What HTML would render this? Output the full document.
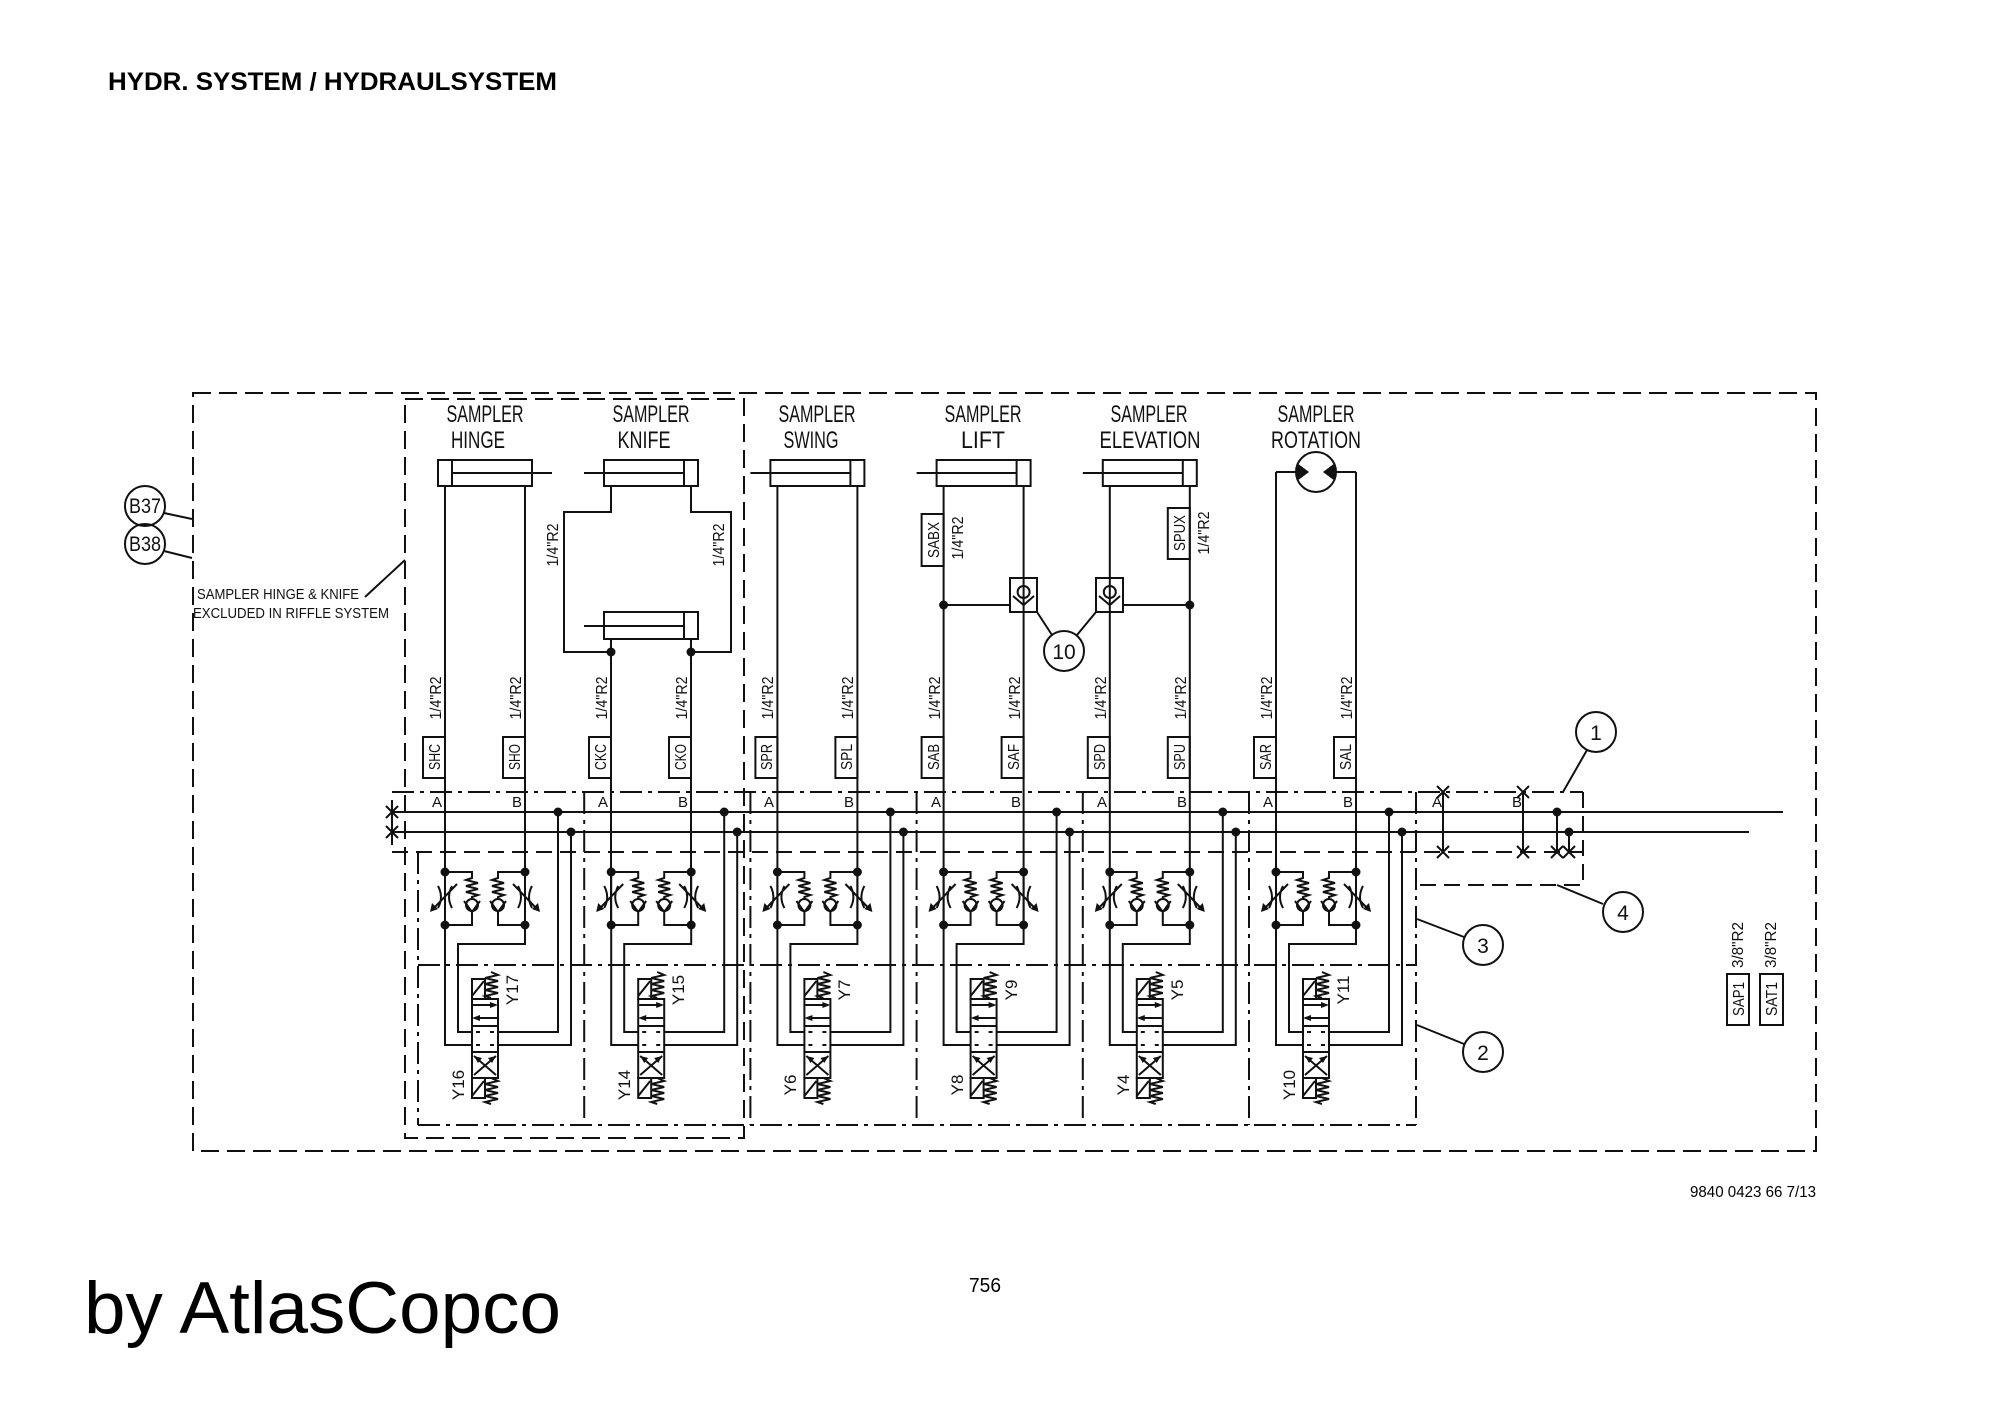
<!DOCTYPE html>
<html><head><meta charset="utf-8"><style>
html,body{margin:0;padding:0;background:#fff;}
svg{display:block;}
.t{font-family:"Liberation Sans Narrow","Liberation Sans",sans-serif;fill:#111;}
</style></head><body>
<svg width="2000" height="1414" viewBox="0 0 2000 1414" xmlns="http://www.w3.org/2000/svg">
<defs>
<g id="sec" stroke="#111" stroke-width="2" fill="none">
  <!-- left check / throttle -->
  <path d="M0 872 V925 M0 872 H27 V878 l-6 2 l12 3 l-12 3 l12 3 l-12 3 l12 3 l-6 2 V899"/>
  <circle cx="27" cy="905" r="6"/>
  <path d="M19 901 L27 912 L35 901 M27 912 V925 H0"/>
  <path d="M-7 886 Q-1 897 -7 908 M7 886 Q1 897 7 908 M-12 909 L12 884"/>
  <polygon points="-15,912 -13,903 -7,909" fill="#111" stroke="none"/>
  <!-- right check / throttle -->
  <path d="M80 872 V925 M80 872 H53 V878 l-6 2 l12 3 l-12 3 l12 3 l-12 3 l12 3 l-6 2 V899"/>
  <circle cx="53" cy="905" r="6"/>
  <path d="M45 901 L53 912 L61 901 M53 912 V925 H80"/>
  <path d="M73 886 Q79 897 73 908 M87 886 Q81 897 87 908 M68 884 L92 909"/>
  <polygon points="95,912 93,903 87,909" fill="#111" stroke="none"/>
  <!-- piping -->
  <path d="M0 925 V1045 H27 M80 925 V944 H13 V1032 H27 M53 1032 H113 V812 M53 1045 H126 V832"/>
  <!-- valve -->
  <rect x="27" y="999" width="26" height="79"/>
  <path d="M27 1026 H53 M27 1052 H53"/>
  <rect x="27" y="979" width="13" height="20"/>
  <path d="M27 996 L39 981"/>
  <path d="M46 972 l7 3 l-13 3 l13 3 l-13 3 l13 3 l-13 3 l13 3 l-13 3 l6 2"/>
  <rect x="27" y="1078" width="13" height="20"/>
  <path d="M27 1096 L39 1081"/>
  <path d="M46 1078 l7 3 l-13 3 l13 3 l-13 3 l13 3 l-13 3 l13 3 l-13 3 l6 2"/>
  <path d="M28 1005 H48 M52 1018 H32"/>
  <path d="M31 1032 h4 M45 1032 h4 M31 1045 h4 M45 1045 h4"/>
  <path d="M29 1056 L51 1075 M29 1075 L51 1056"/>
</g>
<g id="secfill" fill="#111">
  <circle cx="0" cy="872" r="4.5"/><circle cx="0" cy="925" r="4.5"/>
  <circle cx="80" cy="872" r="4.5"/><circle cx="80" cy="925" r="4.5"/>
  <circle cx="113" cy="812" r="4.5"/><circle cx="126" cy="832" r="4.5"/>
  <polygon points="53,1005 45,1002 45,1008"/>
  <polygon points="27,1018 35,1015 35,1021"/>
  <polygon points="51,1056 43,1058 47,1063"/>
  <polygon points="29,1056 37,1058 33,1063"/>
</g>
</defs>

<!-- header/footer -->
<text x="108" y="90" font-family="Liberation Sans,sans-serif" font-weight="bold" font-size="25" textLength="449" lengthAdjust="spacingAndGlyphs" fill="#000">HYDR. SYSTEM / HYDRAULSYSTEM</text>
<text x="84" y="1333" font-family="Liberation Sans,sans-serif" font-size="73" textLength="477" lengthAdjust="spacingAndGlyphs" fill="#000">by AtlasCopco</text>
<text x="969" y="1292" font-family="Liberation Sans,sans-serif" font-size="20" textLength="32" lengthAdjust="spacingAndGlyphs" fill="#000">756</text>
<text x="1690" y="1197" font-family="Liberation Sans,sans-serif" font-size="16" textLength="126" lengthAdjust="spacingAndGlyphs" fill="#000">9840 0423 66 7/13</text>

<g stroke="#111" stroke-width="2" fill="none">
  <!-- outer boxes -->
  <rect x="193" y="393" width="1623" height="758" stroke-dasharray="18 8"/>
  <rect x="405" y="399" width="339" height="739" stroke-dasharray="18 8"/>
  <!-- bus frame -->
  <path d="M392 792 H1583" stroke-dasharray="22 6 4 6"/>
  <path d="M392 852 H1583" stroke-dasharray="16 8"/>
  <path d="M418 965 H1416 M418 1125 H1416" stroke-dasharray="22 6 4 6"/>
  <path d="M418 852 V1125 M584.2 792 V1125 M750.4 792 V1125 M916.6 792 V1125 M1082.8 792 V1125 M1249 792 V1125 M1416 792 V1125" stroke-dasharray="22 6 4 6"/>
  <path d="M1583 792 V885 H1416" stroke-dasharray="16 8"/>
  <path d="M392 812 H1783 M392 832 H1749"/>
  <path d="M392 800 V845 M386 806 l12 12 M398 806 l-12 12 M386 826 l12 12 M398 826 l-12 12"/>
  <!-- box 4 internals -->
  <path d="M1443 792 V852 M1523 792 V852 M1557 812 V852 M1569 832 V852"/>
  <path d="M1437 786 l12 12 M1449 786 l-12 12 M1437 846 l12 12 M1449 846 l-12 12 M1517 786 l12 12 M1529 786 l-12 12 M1517 846 l12 12 M1529 846 l-12 12 M1551 846 l12 12 M1563 846 l-12 12 M1563 846 l12 12 M1575 846 l-12 12"/>

  <!-- section vertical lines upper -->
  <path d="M445 486 V925 M525 486 V925"/>
  <path d="M611 486 V512 H564 V652 H611 M691 486 V512 H731 V652 H691 M611 639 V925 M691 639 V925"/>
  <path d="M777.4 486 V925 M857.4 486 V925"/>
  <path d="M943.6 486 V925 M1023.6 486 V925 M943.6 605 H1011"/>
  <path d="M1109.8 486 V925 M1189.8 486 V925 M1123 605 H1189.8"/>
  <path d="M1276 472 V925 M1356 472 V925 M1276 472 H1296 M1336 472 H1356"/>

  <!-- cylinders -->
  <rect x="438" y="460" width="94" height="26"/><path d="M452 460 V486 M452 473 H552"/>
  <rect x="604" y="460" width="94" height="26"/><path d="M684 460 V486 M684 473 H584"/>
  <rect x="604" y="612" width="94" height="27"/><path d="M684 612 V639 M684 626 H584"/>
  <rect x="770.4" y="460" width="94" height="26"/><path d="M850.4 460 V486 M850.4 473 H750.4"/>
  <rect x="936.6" y="460" width="94" height="26"/><path d="M1016.6 460 V486 M1016.6 473 H916.6"/>
  <rect x="1102.8" y="460" width="94" height="26"/><path d="M1182.8 460 V486 M1182.8 473 H1082.8"/>
  <circle cx="1316" cy="472" r="20"/>

  <!-- shuttle valves -->
  <rect x="1010" y="578" width="27" height="34"/><circle cx="1023.6" cy="592" r="6"/>
  <path d="M1013 596 L1023.6 605 L1034 596"/>
  <rect x="1096" y="578" width="27" height="34"/><circle cx="1109.8" cy="592" r="6"/>
  <path d="M1099 596 L1109.8 605 L1120 596"/>
  <circle cx="1064" cy="651" r="20"/>
  <path d="M1037 612 L1052 635 M1096 612 L1077 635"/>

  <!-- callouts -->
  <circle cx="145" cy="506" r="20"/><circle cx="145" cy="544" r="20"/>
  <path d="M164 513 L192 519 M164 551 L192 558"/>
  <path d="M365 597 L405 560"/>
  <circle cx="1596" cy="732" r="20"/><path d="M1587 750 L1563 792"/>
  <circle cx="1623" cy="912" r="20"/><path d="M1603 904 L1557 885"/>
  <circle cx="1483" cy="945" r="20"/><path d="M1464 937 L1417 919"/>
  <circle cx="1483" cy="1052" r="20"/><path d="M1464 1044 L1417 1025"/>

  <!-- label boxes -->
  <rect x="423" y="737" width="22" height="41"/><rect x="503" y="737" width="22" height="41"/>
  <rect x="589" y="737" width="22" height="41"/><rect x="669" y="737" width="22" height="41"/>
  <rect x="755.4" y="737" width="22" height="41"/><rect x="835.4" y="737" width="22" height="41"/>
  <rect x="921.6" y="737" width="22" height="41"/><rect x="1001.6" y="737" width="22" height="41"/>
  <rect x="1087.8" y="737" width="22" height="41"/><rect x="1167.8" y="737" width="22" height="41"/>
  <rect x="1254" y="737" width="22" height="41"/><rect x="1334" y="737" width="22" height="41"/>
  <rect x="921.6" y="514" width="22" height="52"/><rect x="1167.8" y="508" width="22" height="51"/>
  <rect x="1727" y="974" width="22" height="51"/><rect x="1760" y="974" width="23" height="51"/>
</g>
<g fill="#111">
  <dot/>
  <circle cx="611" cy="652" r="4.5"/><circle cx="691" cy="652" r="4.5"/>
  <circle cx="943.6" cy="605" r="4.5"/><circle cx="1189.8" cy="605" r="4.5"/>
  <circle cx="1557" cy="812" r="4.5"/><circle cx="1569" cy="832" r="4.5"/>
  <polygon points="1297,463 1297,481 1309,472"/>
  <polygon points="1335,463 1335,481 1323,472"/>
</g>

<!-- sections -->
<use href="#sec" x="445"/><use href="#secfill" x="445"/>
<use href="#sec" x="611.2"/><use href="#secfill" x="611.2"/>
<use href="#sec" x="777.4"/><use href="#secfill" x="777.4"/>
<use href="#sec" x="943.6"/><use href="#secfill" x="943.6"/>
<use href="#sec" x="1109.8"/><use href="#secfill" x="1109.8"/>
<use href="#sec" x="1276"/><use href="#secfill" x="1276"/>

<g class="t" font-size="15">
  <text x="432" y="807">A</text><text x="512" y="807">B</text>
  <text x="598" y="807">A</text><text x="678" y="807">B</text>
  <text x="764" y="807">A</text><text x="844" y="807">B</text>
  <text x="931" y="807">A</text><text x="1011" y="807">B</text>
  <text x="1097" y="807">A</text><text x="1177" y="807">B</text>
  <text x="1263" y="807">A</text><text x="1343" y="807">B</text>
  <text x="1432" y="807">A</text><text x="1512" y="807">B</text>
</g>

<!-- titles -->
<g class="t" font-size="24" text-anchor="middle">
  <text x="485" y="422" textLength="77" lengthAdjust="spacingAndGlyphs">SAMPLER</text>
  <text x="478" y="448" textLength="54" lengthAdjust="spacingAndGlyphs">HINGE</text>
  <text x="651" y="422" textLength="77" lengthAdjust="spacingAndGlyphs">SAMPLER</text>
  <text x="644" y="448" textLength="53" lengthAdjust="spacingAndGlyphs">KNIFE</text>
  <text x="817" y="422" textLength="77" lengthAdjust="spacingAndGlyphs">SAMPLER</text>
  <text x="811" y="448" textLength="55" lengthAdjust="spacingAndGlyphs">SWING</text>
  <text x="983" y="422" textLength="77" lengthAdjust="spacingAndGlyphs">SAMPLER</text>
  <text x="983" y="448" textLength="44" lengthAdjust="spacingAndGlyphs">LIFT</text>
  <text x="1149" y="422" textLength="77" lengthAdjust="spacingAndGlyphs">SAMPLER</text>
  <text x="1150" y="448" textLength="101" lengthAdjust="spacingAndGlyphs">ELEVATION</text>
  <text x="1316" y="422" textLength="77" lengthAdjust="spacingAndGlyphs">SAMPLER</text>
  <text x="1316" y="448" textLength="90" lengthAdjust="spacingAndGlyphs">ROTATION</text>
</g>

<!-- callout numbers -->
<g class="t" font-size="21" text-anchor="middle">
  <text x="145" y="513" textLength="32" lengthAdjust="spacingAndGlyphs">B37</text>
  <text x="145" y="551" textLength="32" lengthAdjust="spacingAndGlyphs">B38</text>
  <text x="1064" y="659">10</text>
  <text x="1596" y="740">1</text>
  <text x="1623" y="920">4</text>
  <text x="1483" y="953">3</text>
  <text x="1483" y="1060">2</text>
</g>
<g class="t" font-size="15">
  <text x="197" y="599" textLength="162" lengthAdjust="spacingAndGlyphs">SAMPLER HINGE &amp; KNIFE</text>
  <text x="193" y="618" textLength="196" lengthAdjust="spacingAndGlyphs">EXCLUDED IN RIFFLE SYSTEM</text>
</g>

<!-- rotated labels -->
<g class="t" font-size="16" text-anchor="middle">
  <!-- 1/4"R2 near bus -->
  <text transform="translate(441,698) rotate(-90)" textLength="43" lengthAdjust="spacingAndGlyphs">1/4"R2</text>
  <text transform="translate(521,698) rotate(-90)" textLength="43" lengthAdjust="spacingAndGlyphs">1/4"R2</text>
  <text transform="translate(607,698) rotate(-90)" textLength="43" lengthAdjust="spacingAndGlyphs">1/4"R2</text>
  <text transform="translate(687,698) rotate(-90)" textLength="43" lengthAdjust="spacingAndGlyphs">1/4"R2</text>
  <text transform="translate(773,698) rotate(-90)" textLength="43" lengthAdjust="spacingAndGlyphs">1/4"R2</text>
  <text transform="translate(853,698) rotate(-90)" textLength="43" lengthAdjust="spacingAndGlyphs">1/4"R2</text>
  <text transform="translate(940,698) rotate(-90)" textLength="43" lengthAdjust="spacingAndGlyphs">1/4"R2</text>
  <text transform="translate(1020,698) rotate(-90)" textLength="43" lengthAdjust="spacingAndGlyphs">1/4"R2</text>
  <text transform="translate(1106,698) rotate(-90)" textLength="43" lengthAdjust="spacingAndGlyphs">1/4"R2</text>
  <text transform="translate(1186,698) rotate(-90)" textLength="43" lengthAdjust="spacingAndGlyphs">1/4"R2</text>
  <text transform="translate(1272,698) rotate(-90)" textLength="43" lengthAdjust="spacingAndGlyphs">1/4"R2</text>
  <text transform="translate(1352,698) rotate(-90)" textLength="43" lengthAdjust="spacingAndGlyphs">1/4"R2</text>
  <!-- knife loop -->
  <text transform="translate(558,545) rotate(-90)" textLength="43" lengthAdjust="spacingAndGlyphs">1/4"R2</text>
  <text transform="translate(724,545) rotate(-90)" textLength="43" lengthAdjust="spacingAndGlyphs">1/4"R2</text>
  <text transform="translate(963,538) rotate(-90)" textLength="43" lengthAdjust="spacingAndGlyphs">1/4"R2</text>
  <text transform="translate(1209,533) rotate(-90)" textLength="43" lengthAdjust="spacingAndGlyphs">1/4"R2</text>
  <text transform="translate(1743,945) rotate(-90)" textLength="46" lengthAdjust="spacingAndGlyphs">3/8"R2</text>
  <text transform="translate(1776,945) rotate(-90)" textLength="46" lengthAdjust="spacingAndGlyphs">3/8"R2</text>
  <!-- boxes -->
  <text transform="translate(440,757) rotate(-90)" textLength="26" lengthAdjust="spacingAndGlyphs">SHC</text>
  <text transform="translate(520,757) rotate(-90)" textLength="26" lengthAdjust="spacingAndGlyphs">SHO</text>
  <text transform="translate(606,757) rotate(-90)" textLength="26" lengthAdjust="spacingAndGlyphs">CKC</text>
  <text transform="translate(686,757) rotate(-90)" textLength="26" lengthAdjust="spacingAndGlyphs">CKO</text>
  <text transform="translate(772,757) rotate(-90)" textLength="26" lengthAdjust="spacingAndGlyphs">SPR</text>
  <text transform="translate(852,757) rotate(-90)" textLength="26" lengthAdjust="spacingAndGlyphs">SPL</text>
  <text transform="translate(939,757) rotate(-90)" textLength="26" lengthAdjust="spacingAndGlyphs">SAB</text>
  <text transform="translate(1019,757) rotate(-90)" textLength="26" lengthAdjust="spacingAndGlyphs">SAF</text>
  <text transform="translate(1105,757) rotate(-90)" textLength="26" lengthAdjust="spacingAndGlyphs">SPD</text>
  <text transform="translate(1185,757) rotate(-90)" textLength="26" lengthAdjust="spacingAndGlyphs">SPU</text>
  <text transform="translate(1271,757) rotate(-90)" textLength="26" lengthAdjust="spacingAndGlyphs">SAR</text>
  <text transform="translate(1351,757) rotate(-90)" textLength="26" lengthAdjust="spacingAndGlyphs">SAL</text>
  <text transform="translate(939,540) rotate(-90)" textLength="36" lengthAdjust="spacingAndGlyphs">SABX</text>
  <text transform="translate(1185,533) rotate(-90)" textLength="36" lengthAdjust="spacingAndGlyphs">SPUX</text>
  <text transform="translate(1744,999) rotate(-90)" textLength="34" lengthAdjust="spacingAndGlyphs">SAP1</text>
  <text transform="translate(1777,999) rotate(-90)" textLength="34" lengthAdjust="spacingAndGlyphs">SAT1</text>
  <!-- solenoid labels -->
  <text transform="translate(518,990) rotate(-90)" font-size="17">Y17</text>
  <text transform="translate(684,990) rotate(-90)" font-size="17">Y15</text>
  <text transform="translate(850,990) rotate(-90)" font-size="17">Y7</text>
  <text transform="translate(1017,990) rotate(-90)" font-size="17">Y9</text>
  <text transform="translate(1183,990) rotate(-90)" font-size="17">Y5</text>
  <text transform="translate(1349,990) rotate(-90)" font-size="17">Y11</text>
  <text transform="translate(464,1085) rotate(-90)" font-size="17">Y16</text>
  <text transform="translate(630,1085) rotate(-90)" font-size="17">Y14</text>
  <text transform="translate(796,1085) rotate(-90)" font-size="17">Y6</text>
  <text transform="translate(963,1085) rotate(-90)" font-size="17">Y8</text>
  <text transform="translate(1129,1085) rotate(-90)" font-size="17">Y4</text>
  <text transform="translate(1295,1085) rotate(-90)" font-size="17">Y10</text>
</g>
</svg>
</body></html>
